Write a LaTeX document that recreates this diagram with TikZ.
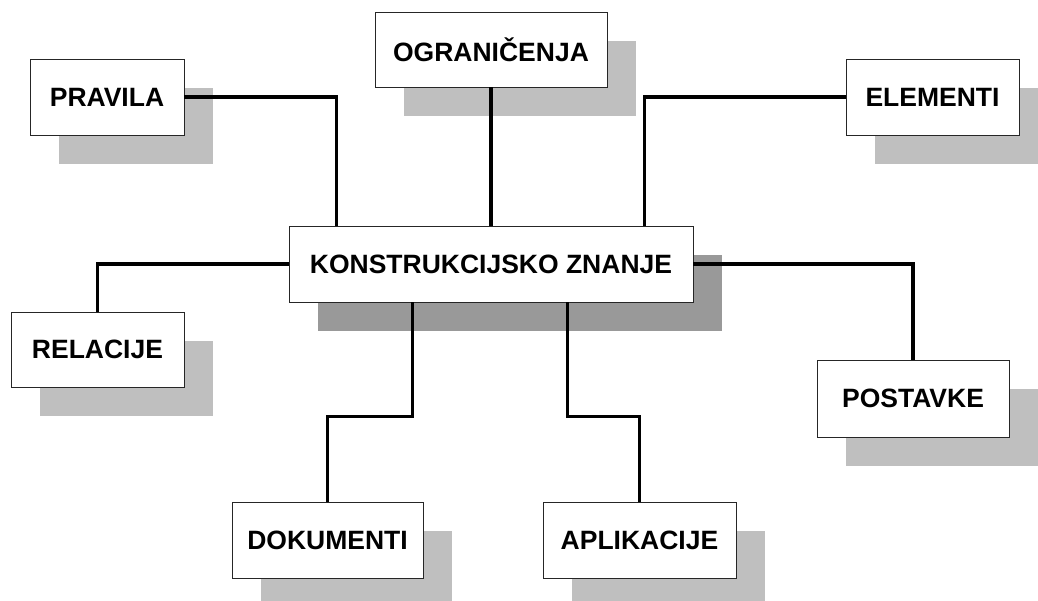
\documentclass[tikz,border=0pt]{standalone}
\usepackage{fontspec}
\setmainfont{Liberation Sans}
\usetikzlibrary{shadows}
\begin{document}
\begin{tikzpicture}[x=1pt,y=-1pt,
  box/.style={draw=black!85, line width=0.9pt, fill=white, inner sep=0pt,
    font=\fontsize{26.5}{30}\selectfont\bfseries,
    general shadow={fill=black!25, shadow xshift=29pt, shadow yshift=-29pt}},
  mainbox/.style={box, general shadow={fill=black!40, shadow xshift=29pt, shadow yshift=-29pt}},
  link/.style={line width=3.2pt, black}]
\useasboundingbox (0,0) rectangle (1038,600);
\clip (0,0) rectangle (1038,600);
\node[box, minimum width=154pt, minimum height=76pt] (pr) at (107,97) {PRAVILA};
\node[box, minimum width=232pt, minimum height=75pt] (og) at (491,49.5) {OGRANIČENJA};
\node[box, minimum width=173pt, minimum height=76pt] (el) at (932.5,97) {ELEMENTI};
\node[mainbox, minimum width=404pt, minimum height=76pt] (kz) at (491,264) {KONSTRUKCIJSKO ZNANJE};
\node[box, minimum width=173pt, minimum height=75pt] (re) at (97.5,349.5) {RELACIJE};
\node[box, minimum width=192pt, minimum height=77pt] (po) at (913,398.5) {POSTAVKE};
\node[box, minimum width=191pt, minimum height=76pt] (do) at (327.5,540) {DOKUMENTI};
\node[box, minimum width=193pt, minimum height=76pt] (ap) at (639.5,540) {APLIKACIJE};
\draw[link] (pr.east) -| ([xshift=48pt]kz.north west);
\draw[link] (og.south) -- (kz.north);
\draw[link] (el.west) -| ([xshift=-49pt]kz.north east);
\draw[link] (kz.west) -| (re.north);
\draw[link] (kz.east) -| (po.north);
\draw[link] ([xshift=124pt]kz.south west) -- ++(0,114) -| (do.north);
\draw[link] ([xshift=-126pt]kz.south east) -- ++(0,114) -| (ap.north);
\end{tikzpicture}
\end{document}
